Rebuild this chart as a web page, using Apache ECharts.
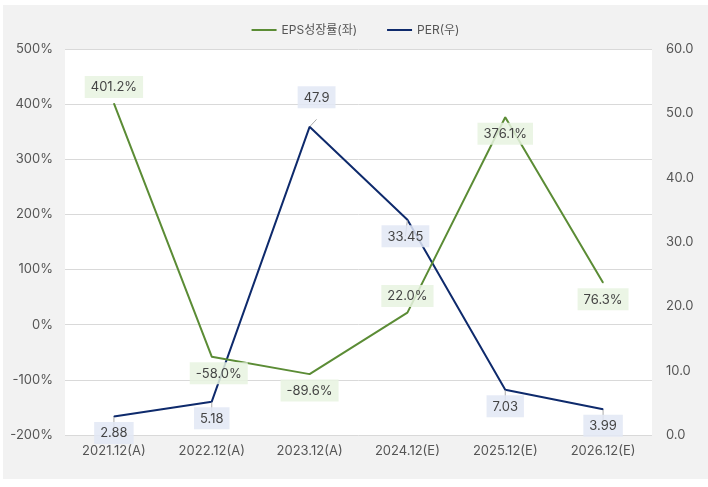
<!DOCTYPE html>
<html>
<head>
<meta charset="utf-8">
<script src="https://cdn.jsdelivr.net/npm/echarts@6/dist/echarts.min.js"></script>
<style>
  html, body { margin: 0; padding: 0; background: #fff; width: 100%; height: 100%; }
  #chart { position: absolute; left: 3px; top: 5px; width: 705px; height: 474px; }
</style>
</head>
<body>
<div id="chart"></div>
<script>
  var categories = ['2021.12(A)', '2022.12(A)', '2023.12(A)', '2024.12(E)', '2025.12(E)', '2026.12(E)'];
  var epsGrowth = [401.2, -58.0, -89.6, 22.0, 376.1, 76.3];
  var per = [2.88, 5.18, 47.9, 33.45, 7.03, 3.99];
  var epsLabelPos = ['top', 'bottom', 'bottom', 'top', 'bottom', 'bottom'];

  var font = 'Inter, "Noto Sans CJK KR", sans-serif';
  var green = '#5b8c35';
  var navy = '#0e2a6c';

  // 라벨 스타일
  function boxLabel(bg) {
    return {
      show: true,
      fontFamily: font,
      fontSize: 13,
      color: '#444',
      backgroundColor: bg,
      padding: [5, 6, 4, 6]
    };
  }

  var epsData = epsGrowth.map(function (v, i) {
    var lb = { position: epsLabelPos[i] };
    if (i === 1) { lb.offset = [7, 0]; }
    return { value: v, label: lb };
  });

  var perData = per.map(function (v, i) {
    var item = { value: v, label: { position: 'bottom' } };
    if (i === 2) {
      item.label = { position: 'top', offset: [7, -13] };
    }
    if (i === 3) { item.label.offset = [-2, 0]; }
    return item;
  });

  var option = {
    backgroundColor: '#f2f2f2',
    textStyle: { fontFamily: font },
    legend: {
      top: 14,
      left: 'center',
      itemWidth: 25,
      itemHeight: 2,
      itemGap: 30,
      icon: 'rect',
      textStyle: { fontSize: 12, color: '#555', fontFamily: font },
      data: ['EPS성장률(좌)', 'PER(우)']
    },
    grid: {
      left: 62, right: 56, top: 44, bottom: 44,
      show: true, backgroundColor: '#fff', borderWidth: 0
    },
    xAxis: {
      type: 'category',
      data: categories,
      boundaryGap: true,
      axisLine: { show: false },
      axisTick: { show: false },
      axisLabel: { fontSize: 13, color: '#555', fontFamily: font, margin: 10 }
    },
    yAxis: [
      {
        type: 'value', min: -200, max: 500, interval: 100,
        axisLine: { show: false }, axisTick: { show: false },
        axisLabel: { fontSize: 13, color: '#555', fontFamily: font, formatter: '{value}%', margin: 12 },
        splitLine: { lineStyle: { color: '#d9d9d9' } }
      },
      {
        type: 'value', min: 0, max: 60, interval: 10,
        axisLine: { show: false }, axisTick: { show: false },
        axisLabel: {
          fontSize: 13, color: '#555', fontFamily: font, margin: 14,
          formatter: function (v) { return v.toFixed(1); }
        },
        splitLine: { show: false }
      }
    ],
    series: [
      {
        name: 'EPS성장률(좌)',
        type: 'line',
        yAxisIndex: 0,
        data: epsData,
        symbol: 'circle',
        symbolSize: 1,
        lineStyle: { color: green, width: 2 },
        itemStyle: { color: green },
        label: Object.assign(boxLabel('rgba(232,243,225,0.85)'), {
          formatter: function (p) { return p.value.toFixed(1) + '%'; }
        }),
        z: 3
      },
      {
        name: 'PER(우)',
        type: 'line',
        yAxisIndex: 1,
        data: perData,
        symbol: 'circle',
        symbolSize: 1,
        lineStyle: { color: navy, width: 2 },
        itemStyle: { color: navy },
        label: boxLabel('rgba(226,232,245,0.85)'),
        labelLine: { show: true, lineStyle: { color: '#aaa', width: 1 } },
        z: 2
      }
    ]
  };

  var myChart = echarts.init(document.getElementById('chart'));
  myChart.setOption(option);
</script>
</body>
</html>
